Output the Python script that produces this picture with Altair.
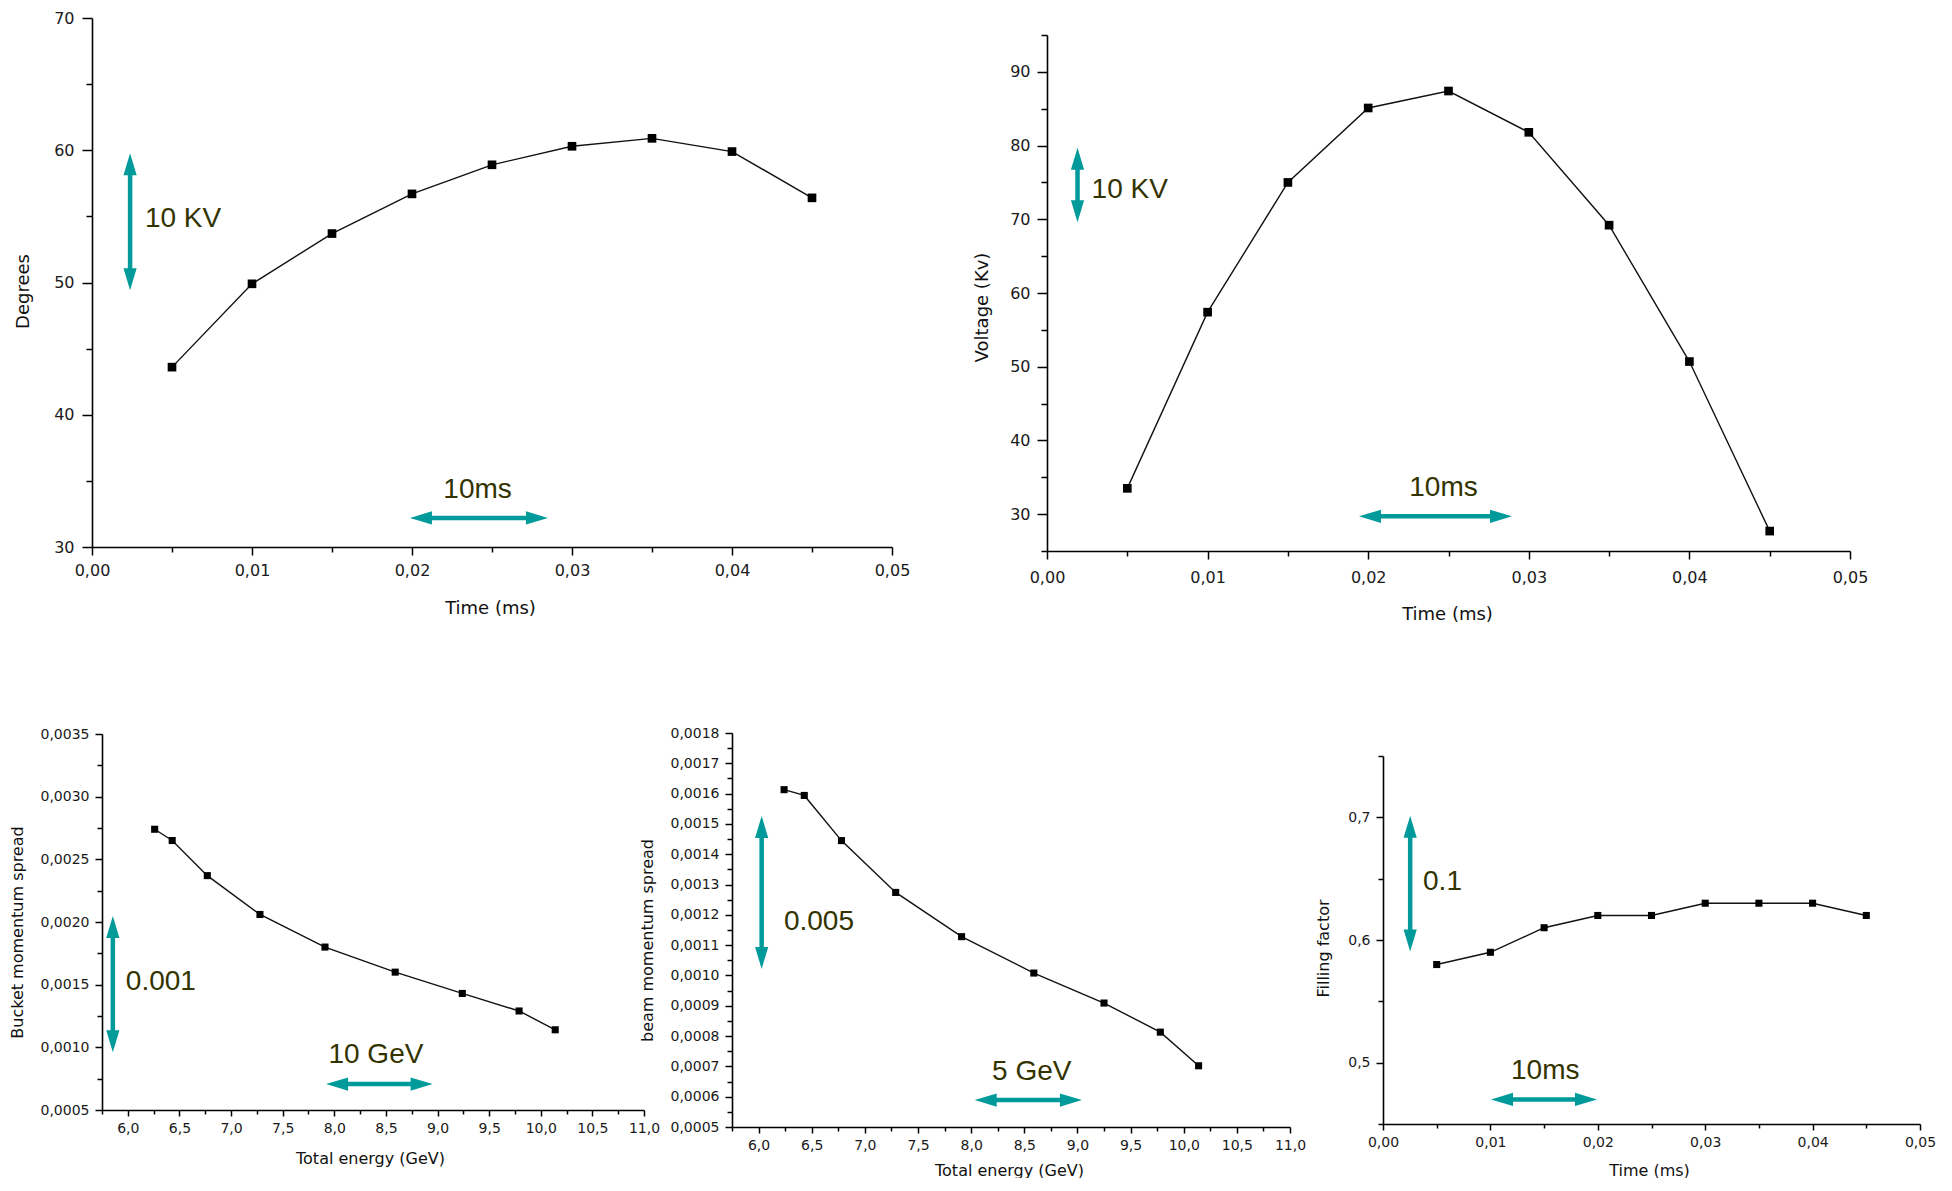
import altair as alt
import pandas as pd

W, H = 1930, 1170

# ---------------- data ----------------
TIME = [0.005, 0.010, 0.015, 0.020, 0.025, 0.030, 0.035, 0.040, 0.045]
DEGREES = [43.6, 49.9, 53.7, 56.7, 58.9, 60.3, 60.9, 59.9, 56.4]
VOLTAGE = [33.5, 57.4, 75.0, 85.1, 87.4, 81.8, 69.2, 50.7, 27.7]
ENERGY_BUCKET = [6.26, 6.43, 6.77, 7.28, 7.91, 8.59, 9.24, 9.79, 10.14]
BUCKET_SPREAD = [0.00274, 0.00265, 0.00237, 0.00206, 0.00180, 0.00160, 0.00143, 0.00129, 0.00114]
ENERGY_BEAM = [6.24, 6.43, 6.78, 7.29, 7.91, 8.59, 9.25, 9.78, 10.14]
BEAM_SPREAD = [0.001613, 0.001594, 0.001445, 0.001274, 0.001128, 0.001008, 0.000909, 0.000813, 0.000702]
FILLING = [0.58, 0.59, 0.61, 0.62, 0.62, 0.63, 0.63, 0.63, 0.62]

# tick values (major + minor)
TICKS_TIME = [0.0, 0.005, 0.01, 0.015, 0.02, 0.025, 0.03, 0.035, 0.04, 0.045, 0.05]
TICKS_DEG = [30, 35, 40, 45, 50, 55, 60, 65, 70]
TICKS_VOLT = [25, 30, 35, 40, 45, 50, 55, 60, 65, 70, 75, 80, 85, 90, 95]
TICKS_ENERGY = [5.75, 6.0, 6.25, 6.5, 6.75, 7.0, 7.25, 7.5, 7.75, 8.0, 8.25, 8.5,
                8.75, 9.0, 9.25, 9.5, 9.75, 10.0, 10.25, 10.5, 10.75, 11.0]
TICKS_BUCKET = [0.0005, 0.00075, 0.001, 0.00125, 0.0015, 0.00175, 0.002, 0.00225,
                0.0025, 0.00275, 0.003, 0.00325, 0.0035]
TICKS_BEAM = [0.0005, 0.00055, 0.0006, 0.00065, 0.0007, 0.00075, 0.0008, 0.00085,
              0.0009, 0.00095, 0.001, 0.00105, 0.0011, 0.00115, 0.0012, 0.00125,
              0.0013, 0.00135, 0.0014, 0.00145, 0.0015, 0.00155, 0.0016, 0.00165,
              0.0017, 0.00175, 0.0018]
TICKS_FILL = [0.45, 0.5, 0.55, 0.6, 0.65, 0.7, 0.75]

# annotations in data units: vertical bar [x, y_top, y_bottom], horizontal bar [y, x_left, x_right]
VBAR_1, HBAR_1 = [0.00238, 58.94, 50.25], [32.2, 0.02056, 0.02781]
LABELS_1 = (["10 KV", "10ms"], [0.00569, 0.0241], [54.8, 34.3])
VBAR_2, HBAR_2 = [0.0019, 78.2, 71.08], [29.7, 0.02011, 0.02827]
LABELS_2 = (["10 KV", "10ms"], [0.00515, 0.02469], [74.0, 33.5])
VBAR_3, HBAR_3 = [5.855, 0.00196, 0.001048], [0.000707, 8.027, 8.846]
LABELS_3 = (["0.001", "10 GeV"], [6.32, 8.403], [0.001524, 0.000939])
VBAR_4, HBAR_4 = [6.029, 0.00149, 0.001058], [0.000589, 8.137, 8.939]
LABELS_4 = (["0.005", "5 GeV"], [6.568, 8.57], [0.001178, 0.000682])
VBAR_5, HBAR_5 = [0.00253, 0.6924, 0.5995], [0.47, 0.01108, 0.0189]
LABELS_5 = (["0.1", "10ms"], [0.00554, 0.01511], [0.6473, 0.4931])

# ---------------- style ----------------
TEAL = "#009a9a"
TXT = "#333300"
UP = "M0,-2L1.2,2L-1.2,2Z"
DOWN = "M0,2L1.2,-2L-1.2,-2Z"
LEFT = "M-2,0L2,1.2L2,-1.2Z"
RIGHT = "M2,0L-2,1.2L-2,-1.2Z"
HEAD = 121


def make_axis(orient, offset, values, step, fmt, major, minor, lsize, lpad,
              title, tsize, tx, ty):
    test = f"abs(datum.value / {step} - round(datum.value / {step})) < 0.000001"
    return alt.Axis(
        orient=orient, offset=offset, values=values,
        labelExpr=f"({test}) ? replace(format(datum.value, '{fmt}'), '.', ',') : ''",
        labelOverlap=False, labelFlush=False, labelBound=False,
        labelFont="DejaVu Sans", labelFontSize=lsize, labelColor="#1a1a1a",
        labelPadding=lpad,
        tickSize={"condition": {"test": test, "value": major}, "value": minor},
        tickColor="black", tickWidth=1.5, domainColor="black", domainWidth=1.6,
        grid=False,
        title=title, titleFont="DejaVu Sans", titleFontSize=tsize,
        titleFontWeight="normal", titleColor="#111111",
        titleX=tx, titleY=ty, titleAlign="center", titleBaseline="middle",
        titleAngle=270 if orient == "left" else 0,
    )


def panel(xs, ys, xdom, ydom, box, xax, yax, msize, vbar, hbar, labels):
    x0, x1, yt, yb = box
    sx = alt.Scale(domain=xdom, range=[x0, x1], nice=False, zero=False)
    sy = alt.Scale(domain=ydom, range=[yb, yt], nice=False, zero=False)

    def X(f, axis=None):
        if axis is None:
            return alt.X(f, type="quantitative", scale=sx)
        return alt.X(f, type="quantitative", scale=sx, axis=axis)

    def Y(f, axis=None):
        if axis is None:
            return alt.Y(f, type="quantitative", scale=sy)
        return alt.Y(f, type="quantitative", scale=sy, axis=axis)

    df = pd.DataFrame({"x": xs, "y": ys})
    line = alt.Chart(df).mark_line(color="#111111", strokeWidth=1.4).encode(
        x=X("x", xax), y=Y("y", yax))
    pts = alt.Chart(df).mark_square(color="black", size=msize, opacity=1).encode(
        x=X("x"), y=Y("y"))

    vdf = pd.DataFrame({"x": [vbar[0]], "y": [vbar[1]], "y2": [vbar[2]]})
    vshaft = alt.Chart(vdf).mark_rule(color=TEAL, strokeWidth=4.5).encode(
        x=X("x"), y=Y("y"), y2=alt.Y2("y2"))
    up = alt.Chart(vdf).mark_point(shape=UP, size=HEAD, filled=True, color=TEAL,
                                   opacity=1, strokeWidth=0).encode(x=X("x"), y=Y("y"))
    down = alt.Chart(vdf).mark_point(shape=DOWN, size=HEAD, filled=True, color=TEAL,
                                     opacity=1, strokeWidth=0).encode(x=X("x"), y=Y("y2"))

    hdf = pd.DataFrame({"y": [hbar[0]], "x": [hbar[1]], "x2": [hbar[2]]})
    hshaft = alt.Chart(hdf).mark_rule(color=TEAL, strokeWidth=4.5).encode(
        x=X("x"), x2=alt.X2("x2"), y=Y("y"))
    left = alt.Chart(hdf).mark_point(shape=LEFT, size=HEAD, filled=True, color=TEAL,
                                     opacity=1, strokeWidth=0).encode(x=X("x"), y=Y("y"))
    right = alt.Chart(hdf).mark_point(shape=RIGHT, size=HEAD, filled=True, color=TEAL,
                                      opacity=1, strokeWidth=0).encode(x=X("x2"), y=Y("y"))

    ldf = pd.DataFrame({"t": labels[0], "x": labels[1], "y": labels[2]})
    txt = alt.Chart(ldf).mark_text(font="Liberation Sans", fontSize=28, color=TXT,
                                   align="center", baseline="middle").encode(
        x=X("x"), y=Y("y"), text="t:N")

    return alt.layer(line, pts, vshaft, up, down, hshaft, left, right, txt)


# panel boxes in local pixels: x0, x1, y_top, y_bottom
B1 = (84, 884, 10, 539)
B2 = (1039, 1842, 27, 543)
B3 = (94, 636, 726, 1102)
B4 = (724, 1282, 725, 1119)
B5 = (1375, 1912, 748, 1116)

p1 = panel(
    TIME, DEGREES, [0, 0.05], [30, 70], B1,
    make_axis("bottom", B1[3] - H, TICKS_TIME, 0.01, ".2f", 8, 5, 16, 7,
              "Time (ms)", 18, 482, 61),
    make_axis("left", -B1[0], TICKS_DEG, 10, "d", 10, 6, 16, 8,
              "Degrees", 18, 15.5 - B1[0], 283),
    75, VBAR_1, HBAR_1, LABELS_1)

p2 = panel(
    TIME, VOLTAGE, [0, 0.05], [25, 95], B2,
    make_axis("bottom", B2[3] - H, TICKS_TIME, 0.01, ".2f", 8, 5, 16, 10,
              "Time (ms)", 18, 1439, 63),
    make_axis("left", -B2[0], TICKS_VOLT, 10, "d", 10, 6, 16, 7,
              "Voltage (Kv)", 18, 974 - B2[0], 299),
    75, VBAR_2, HBAR_2, LABELS_2)

p3 = panel(
    ENERGY_BUCKET, BUCKET_SPREAD, [5.75, 11.0], [0.0005, 0.0035], B3,
    make_axis("bottom", B3[3] - H, TICKS_ENERGY, 0.5, ".1f", 6, 4, 14, 5,
              "Total energy (GeV)", 16, 362, 48),
    make_axis("left", -B3[0], TICKS_BUCKET, 0.0005, ".4f", 7, 5, 14, 6,
              "Bucket momentum spread", 16, 9 - B3[0], 924),
    50, VBAR_3, HBAR_3, LABELS_3)

p4 = panel(
    ENERGY_BEAM, BEAM_SPREAD, [5.75, 11.0], [0.0005, 0.0018], B4,
    make_axis("bottom", B4[3] - H, TICKS_ENERGY, 0.5, ".1f", 6, 4, 14, 5,
              "Total energy (GeV)", 16, 1001, 43),
    make_axis("left", -B4[0], TICKS_BEAM, 0.0001, ".4f", 7, 5, 14, 6,
              "beam momentum spread", 16, 639 - B4[0], 932),
    50, VBAR_4, HBAR_4, LABELS_4)

p5 = panel(
    TIME, FILLING, [0, 0.05], [0.45, 0.75], B5,
    make_axis("bottom", B5[3] - H, TICKS_TIME, 0.01, ".2f", 6, 4, 14, 5,
              "Time (ms)", 16, 1641, 46),
    make_axis("left", -B5[0], TICKS_FILL, 0.1, ".1f", 7, 5, 14, 6,
              "Filling factor", 16, 1315 - B5[0], 940),
    50, VBAR_5, HBAR_5, LABELS_5)

chart = (
    alt.layer(p1, p2, p3, p4, p5)
    .resolve_scale(x="independent", y="independent")
    .properties(width=W, height=H, padding=0, background="white",
                autosize=alt.AutoSizeParams(type="none"))
    .configure_view(stroke=None)
)

chart.save("out.html", embed_options={"renderer": "svg", "actions": False})
